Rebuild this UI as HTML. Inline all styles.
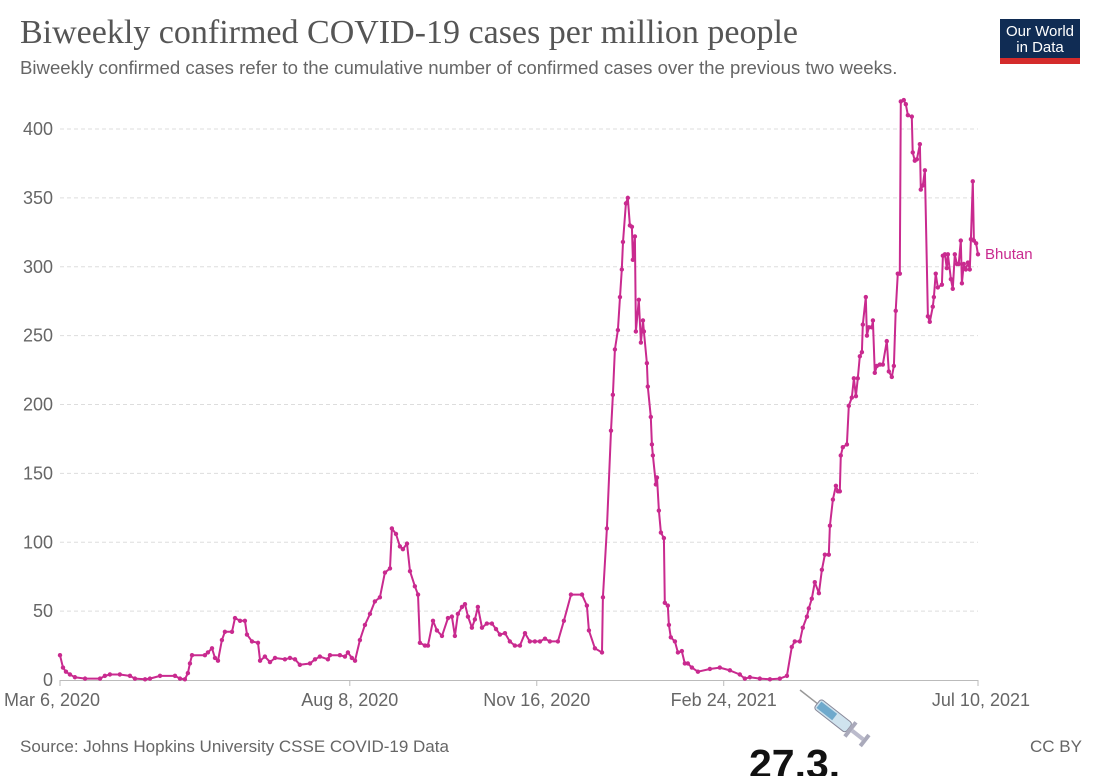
<!DOCTYPE html>
<html><head><meta charset="utf-8">
<style>
body{margin:0;width:1100px;height:776px;background:#fff;overflow:hidden;font-family:"Liberation Sans",sans-serif;}
#title{position:absolute;left:20px;top:14px;font-family:"Liberation Serif",serif;font-size:34px;color:#555;white-space:nowrap;}
#subtitle{position:absolute;left:20px;top:57px;font-size:18.6px;color:#666;white-space:nowrap;}
#logo{position:absolute;left:1000px;top:19px;width:80px;height:45px;background:#102c54;color:#fff;font-size:15px;line-height:16px;text-align:center;box-sizing:border-box;padding-top:5px;border-bottom:6px solid #d42b2b;}
svg{position:absolute;left:0;top:0;}
</style></head>
<body>
<div id="title">Biweekly confirmed COVID-19 cases per million people</div>
<div id="subtitle">Biweekly confirmed cases refer to the cumulative number of confirmed cases over the previous two weeks.</div>
<div id="logo">Our World<br>in Data</div>
<svg id="chart" width="1100" height="776"></svg>
<script>
const yTicks=[0,50,100,150,200,250,300,350,400];
const xTickDays=[0,155,255,355,491];
const xTickLabels=["Mar 6, 2020","Aug 8, 2020","Nov 16, 2020","Feb 24, 2021","Jul 10, 2021"];
const days=[0,1.6,3.2,5.3,8,13.4,21.4,24,26.7,32,37.4,40.1,45.5,48.1,53.5,61.5,64.2,66.8,68.4,69.5,70.6,77.5,79.1,81.3,82.9,84.5,86.6,88.2,92,93.6,96.3,98.9,100,102.7,105.9,107,109.6,112.3,115,120.3,123,125.7,128.3,133.7,136.4,139,143.3,144.4,149.7,152.4,154,156.1,157.8,160.4,163.1,165.8,168.4,171.1,173.8,176.5,177.5,179.7,181.8,183.4,185.6,187.2,189.8,191.5,192.5,195.2,196.8,199.5,201.6,204.3,207.5,209.6,211.2,212.8,215,216.6,218.2,220.3,221.9,223.5,225.7,228.3,231,233.2,235.3,238,240.6,243.3,246,248.7,251.3,254,256.7,259.4,262,266.3,269.5,273.3,279.2,281.8,282.9,286.1,289.9,290.4,292.5,294.7,295.7,296.8,298.4,299.5,300.5,301.1,302.7,303.7,304.8,305.9,306.4,307.5,308,309.6,310.7,311.8,312.3,313.9,314.4,316,316.6,317.1,318.7,319.3,320.3,321.4,323,323.5,325.1,325.7,326.7,328.9,330.5,332.6,334.2,335.8,338,341.2,347.6,352.9,358.3,363.6,366.3,369,374.3,379.7,385,388.8,391.4,393,395.7,397.3,399.5,400.5,402.1,403.7,405.9,407.5,409.1,411.2,411.8,413.4,415,416.1,417.1,417.6,418.7,420.9,421.9,423.5,424.6,425.7,426.7,427.8,428.9,429.4,431,431.6,432.6,434.2,434.8,435.8,436.9,438.5,440.1,442.2,443.3,444.9,446,447,448.1,449.2,449.7,451.3,452.4,453.5,455.6,456.1,457.2,458.3,459.9,460.4,461.5,462.6,464.2,465.2,466.8,467.4,468.4,469.5,471.7,472.2,473.3,474.3,474.9,476.5,477.5,478.6,479.7,480.7,481.8,482.4,483.4,484.5,485.6,486.6,487.2,488.2,488.8,490,491];
const values=[18,9,6,4,2,1,1,3,4,4,3,1,0.5,1,3,3,1,0.5,5,12,18,18,20,23,16,14,29,35,35,45,43,43,33,28,27,14,17,13,16,15,16,15,11,12,15,17,15,18,18,17,20,16,14,29,40,48,57,60,78,81,110,106,97,95,99,79,68,62,27,25,25,43,36,32,45,46,32,48,53,55,46,38,44,53,38,41,41,37,33,34,28,25,25,34,28,28,28,30,28,28,43,62,62,54,36,23,20,60,110,181,207,240,254,278,298,318,346,350,330,329,305,322,253,276,245,261,253,230,213,191,171,163,142,147,123,107,103,56,54,40,31,28,20,21,12,12,9,6,8,9,7,4,1,2,1,0.5,1,3,24,28,28,38,46,52,59,71,63,80,91,91,112,131,141,137,137,163,169,171,199,205,219,206,219,235,238,258,278,250,256,256,261,223,228,229,229,246,224,220,228,268,295,295,420,421,418,410,409,383,377,378,389,356,359,370,264,260,271,278,295,285,287,308,309,299,309,291,284,309,302,302,319,288,302,298,303,298,320,362,319,317,309];
const NS="http://www.w3.org/2000/svg";
const svg=document.getElementById('chart');
const X0=60,X1=978,Y0=680,Y400=129;
const xs=d=>X0+d*(X1-X0)/491;
const ys=v=>Y0-v*(Y0-Y400)/400;
function mk(tag,attrs,parent){const e=document.createElementNS(NS,tag);for(const k in attrs)e.setAttribute(k,attrs[k]);(parent||svg).appendChild(e);return e;}
yTicks.forEach(t=>{
  if(t>0){const g=mk('line',{x1:X0,x2:X1,y1:ys(t),y2:ys(t),stroke:'#ddd','stroke-dasharray':'4,3'});
  
  }
  const tx=mk('text',{x:53,y:ys(t)+6,'text-anchor':'end','font-size':'18','fill':'#666'});
  tx.textContent=t;
  
  
});
const ax=mk('line',{x1:X0,x2:X1,y1:Y0+0.5,y2:Y0+0.5,stroke:'#bbb'});


xTickDays.forEach((d,i)=>{
  const tk=mk('line',{x1:xs(d),x2:xs(d),y1:Y0,y2:Y0+6,stroke:'#bbb'});
  
  
  const anchor=i==0?'start':(i==xTickDays.length-1?'end':'middle');
  const tx=mk('text',{x:i==0?4:(i==xTickDays.length-1?1030:xs(d)),y:Y0+26,'text-anchor':anchor,'font-size':'18','fill':'#666'});
  tx.textContent=xTickLabels[i];
  
  
});
const col='#c92a8f';
const pts=days.map((d,i)=>xs(d).toFixed(1)+','+ys(values[i]).toFixed(1)).join(' ');
const line=mk('polyline',{points:pts,fill:'none',stroke:col,'stroke-width':2,'stroke-linejoin':'round'});


days.forEach((d,i)=>{
  const c=mk('circle',{cx:xs(d),cy:ys(values[i]),r:2.2,fill:col});
  
  
});
const lbl=mk('text',{x:985,y:259,'font-size':'15','fill':col});
lbl.textContent='Bhutan';


const src=mk('text',{x:20,y:752,'font-size':'17','fill':'#666'});
src.textContent='Source: Johns Hopkins University CSSE COVID-19 Data';


const cc=mk('text',{x:1082,y:752,'text-anchor':'end','font-size':'17','fill':'#666'});
cc.textContent='CC BY';


const big=mk('text',{x:749,y:778,'font-size':'41','font-weight':'bold','fill':'#111'});
big.textContent='27.3.';


const syr=mk('g',{transform:'translate(800,690) rotate(38)'});


mk('line',{x1:0,y1:0,x2:22,y2:0,stroke:'#999','stroke-width':1.5},syr);
mk('rect',{x:22,y:-6,width:40,height:12,rx:3,fill:'#cfe3ee',stroke:'#889',"stroke-width":1},syr);
mk('rect',{x:24,y:-4,width:20,height:8,fill:'#6fa9cc'},syr);
mk('rect',{x:62,y:-9,width:4,height:18,fill:'#aab'},syr);
mk('rect',{x:66,y:-2,width:14,height:4,fill:'#bbc'},syr);
mk('rect',{x:80,y:-7,width:4,height:14,fill:'#aab'},syr);
</script>
</body></html>
